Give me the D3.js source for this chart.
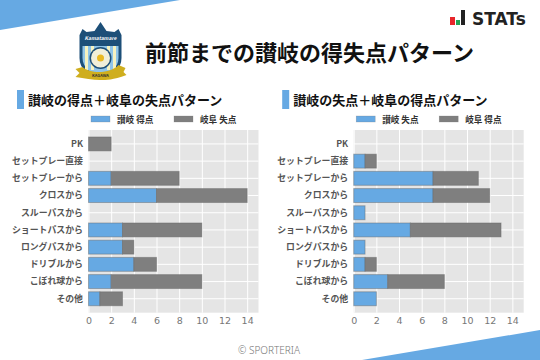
<!DOCTYPE html>
<html>
<head>
<meta charset="utf-8">
<script src="https://cdn.jsdelivr.net/npm/d3@7"></script>
<style>
html, body { margin: 0; padding: 0; background: #fff; }
svg { display: block; }
text { font-family: "Noto Sans CJK JP", "Noto Sans", sans-serif; }
</style>
</head>
<body>
<div id="chart"></div>
<script>
var categories = ["PK", "セットプレー直接", "セットプレーから", "クロスから", "スルーパスから", "ショートパスから", "ロングパスから", "ドリブルから", "こぼれ球から", "その他"];
var xTicks = [0, 2, 4, 6, 8, 10, 12, 14];

var leftLegend = ["讃岐 得点", "岐阜 失点"];
var leftBlue = [0, 0, 2, 6, 0, 3, 3, 4, 2, 1];
var leftGray = [2, 0, 6, 8, 0, 7, 1, 2, 8, 2];

var rightLegend = ["讃岐 失点", "岐阜 得点"];
var rightBlue = [0, 1, 7, 7, 1, 5, 1, 1, 3, 2];
var rightGray = [0, 1, 4, 5, 0, 8, 0, 1, 5, 0];

var blue = "#66a9e3", gray = "#7f7f7f", bg = "#e5e5e5", navy = "#1d4f78";

var svg = d3.select("#chart").append("svg")
    .attr("width", 540)
    .attr("height", 360);

// corner wedges
svg.append("path").attr("d", "M0,0L180,0L0,30Z").attr("fill", blue);
svg.append("path").attr("d", "M540,330L540,360L362,360Z").attr("fill", blue);

// crest, origin at its top point
var crest = svg.append("g").attr("transform", "translate(100.5,22)");
crest.append("path")
    .attr("d", "M0,0L6,9L14,10L18,7L21,13L21,36C21,47 12,54 0,58C-12,54 -21,47 -21,36L-21,13L-18,7L-14,10L-6,9Z")
    .attr("fill", navy);
crest.append("path")
    .attr("d", "M-18,24L18,24L18,36C18,45 10,52 0,55C-10,52 -18,45 -18,36Z")
    .attr("fill", "#8fc4e8");
[-14, -8, 8, 14].forEach(function(dx) {
    crest.append("rect").attr("x", dx - 1.5).attr("y", 24).attr("width", 3).attr("height", 24).attr("fill", "#f6f2c0");
});
crest.append("circle").attr("cx", 0).attr("cy", 36).attr("r", 11).attr("fill", navy);
crest.append("circle").attr("cx", 0).attr("cy", 36).attr("r", 9.5).attr("fill", "#f1efd8");
crest.append("circle").attr("cx", 0).attr("cy", 36).attr("r", 3.5).attr("fill", "#e8b923");
crest.append("path")
    .attr("d", "M-25,47L-18,45C-10,52 10,52 18,43L25,46L23,50L26,53C12,58 6,58 0,58C-8,58 -16,56 -25,55L-21,51Z")
    .attr("fill", "#cfae1e");
crest.append("text").attr("x", 0).attr("y", 18).attr("text-anchor", "middle")
    .attr("font-size", 5).attr("font-style", "italic").attr("font-weight", 700).attr("fill", "#fff")
    .text("Kamatamare");
crest.append("text").attr("x", 0).attr("y", 55).attr("text-anchor", "middle")
    .attr("font-size", 4).attr("font-weight", 700).attr("fill", "#333")
    .text("KAGAWA");

// STATs logo
svg.append("rect").attr("x", 450).attr("y", 17).attr("width", 5).attr("height", 8).attr("fill", "#e8262b");
svg.append("rect").attr("x", 456).attr("y", 20).attr("width", 4).attr("height", 5).attr("fill", "#22a455");
svg.append("rect").attr("x", 461).attr("y", 10).attr("width", 4).attr("height", 15).attr("fill", "#222");
svg.append("text").attr("x", 472).attr("y", 24.5).attr("font-size", 17).attr("font-weight", 700)
    .style("font-family", "'DejaVu Sans'").attr("fill", "#222").text("STATs");

svg.append("text").attr("x", 145).attr("y", 61).attr("font-size", 22).attr("font-weight", 700)
    .attr("fill", "#111").text("前節までの讃岐の得失点パターン");

svg.append("text").attr("x", 269).attr("y", 354).attr("text-anchor", "middle").attr("font-size", 10)
    .style("font-family", "'Noto Sans'").style("font-weight", 300).attr("fill", "#777").text("© SPORTERIA");

function barPanel(left, title, legend, blues, grays) {
    var width = 170, top = 130, bottom = 312.7;
    var g = svg.append("g").attr("transform", "translate(" + left + ",0)");

    var x = d3.scaleLinear().domain([0, 15]).range([0, width]);
    var y = d3.scaleBand().domain(categories).range([top, bottom]).paddingInner(0.19).paddingOuter(0.405);

    g.append("rect").attr("x", -71.5).attr("y", 90).attr("width", 7).attr("height", 19).attr("fill", blue);
    g.append("text").attr("x", -60.5).attr("y", 105).attr("font-size", 13).attr("font-weight", 700)
        .attr("fill", "#111").text(title);

    // legend
    [0, 1].forEach(function(i) {
        var lx = 2.5 + i * 83;
        g.append("rect").attr("x", lx).attr("y", 116).attr("width", 19).attr("height", 6)
            .attr("fill", i ? gray : blue).attr("stroke", "#777").attr("stroke-opacity", 0.5).attr("stroke-width", 0.5);
        g.append("text").attr("x", lx + 26).attr("y", 123).attr("font-size", 8.6).attr("font-weight", 700)
            .attr("fill", "#333").text(legend[i]);
    });

    g.append("rect").attr("x", 0).attr("y", top).attr("width", width).attr("height", bottom - top).attr("fill", bg);

    var xAxis = d3.axisBottom(x)
        .tickValues(xTicks)
        .tickSize(top - bottom)
        .tickPadding(5)
        .tickSizeOuter(0);
    var ax = g.append("g").attr("transform", "translate(0," + bottom + ")").call(xAxis);
    ax.select(".domain").remove();
    ax.selectAll("line").attr("stroke", "#fff").attr("stroke-width", 1);
    ax.selectAll("text").attr("font-size", 9.5).style("font-family", "'DejaVu Sans'").attr("fill", "#777");

    var yAxis = d3.axisLeft(y).tickSize(-width).tickPadding(5.5).tickSizeOuter(0);
    var ay = g.append("g").call(yAxis);
    ay.select(".domain").remove();
    ay.selectAll("line").attr("stroke", "#fff").attr("stroke-width", 1);
    ay.selectAll("text").attr("font-size", 8.9).attr("font-weight", 700).attr("fill", "#555");

    function bars(values, starts, color) {
        g.append("g").selectAll("rect")
            .data(values)
            .join("rect")
            .attr("x", function(d, i) { return x(starts[i]); })
            .attr("y", function(d, i) { return y(categories[i]); })
            .attr("width", function(d, i) { return x(d) - x(0); })
            .attr("height", y.bandwidth())
            .attr("fill", color)
            .attr("stroke", "#666")
            .attr("stroke-opacity", 0.45)
            .attr("stroke-width", 1);
    }
    bars(blues, blues.map(function() { return 0; }), blue);
    bars(grays, blues, gray);
}

barPanel(88.5, "讃岐の得点＋岐阜の失点パターン", leftLegend, leftBlue, leftGray);
barPanel(353.7, "讃岐の失点＋岐阜の得点パターン", rightLegend, rightBlue, rightGray);
</script>
</body>
</html>
